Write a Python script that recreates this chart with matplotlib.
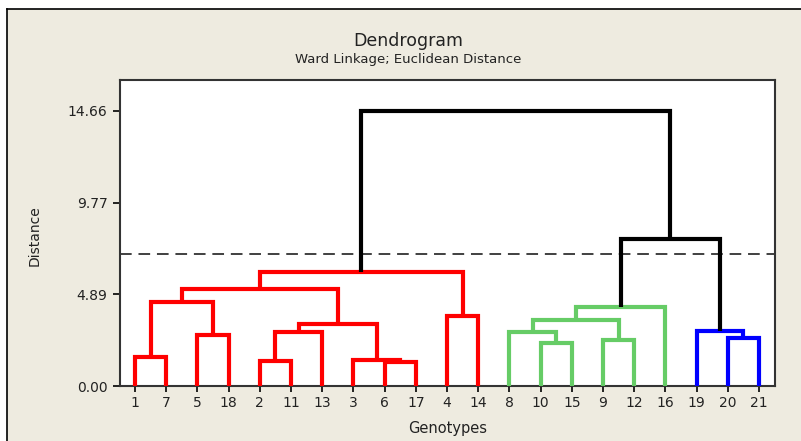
import matplotlib
matplotlib.use("Agg")
import matplotlib.pyplot as plt
from matplotlib.patches import Rectangle
from matplotlib.lines import Line2D

# ---- data ----
leaf_order = ["1", "7", "5", "18", "2", "11", "13", "3", "6", "17", "4", "14",
              "8", "10", "15", "9", "12", "16", "19", "20", "21"]
# merges: (child_a, child_b, distance); internal nodes are named c<index>
merge_a = ["1", "5", "c0", "2", "c3", "6", "3", "c4", "c2", "4", "c8",
           "10", "8", "9", "c12", "c14", "20", "19", "c15", "c10"]
merge_b = ["7", "18", "c1", "11", "13", "17", "c5", "c6", "c7", "14", "c9",
           "15", "c11", "12", "c13", "16", "21", "c16", "c17", "c18"]
merge_h = [1.53, 2.74, 4.46, 1.35, 2.86, 1.30, 1.39, 3.29, 5.19, 3.73, 6.09,
           2.31, 2.90, 2.45, 3.52, 4.20, 2.54, 2.95, 7.84, 14.66]
group_red = ["1", "7", "5", "18", "2", "11", "13", "3", "6", "17", "4", "14"]
group_green = ["8", "10", "15", "9", "12", "16"]
group_blue = ["19", "20", "21"]
cut_distance = 7.03
ytick_vals = [0.00, 4.89, 9.77, 14.66]

# ---- figure ----
W, H = 801, 441
fig = plt.figure(figsize=(W / 100, H / 100), dpi=100)
fig.patch.set_facecolor("white")
bg = "#EEEBE0"
fig.add_artist(Rectangle((7 / W, 0), 1, 1 - 9 / H, transform=fig.transFigure,
                         facecolor=bg, edgecolor="none", zorder=0))
fig.add_artist(Line2D([7 / W, 7 / W], [0, 1 - 9 / H], transform=fig.transFigure,
                      color="black", lw=1.2))
fig.add_artist(Line2D([7 / W, 1], [1 - 9 / H, 1 - 9 / H], transform=fig.transFigure,
                      color="black", lw=1.2))

ax = fig.add_axes([120 / W, (H - 386) / H, 655 / W, 306 / H])
ax.set_facecolor("white")

pos = {lab: i + 1 for i, lab in enumerate(leaf_order)}
height = {lab: 0.0 for lab in leaf_order}
members = {lab: {lab} for lab in leaf_order}
colors = {"red": "#FF0000", "green": "#66CC66", "blue": "#0000FF"}
groups = [(set(group_red), colors["red"]), (set(group_green), colors["green"]),
          (set(group_blue), colors["blue"])]

for i, (a, b, h) in enumerate(zip(merge_a, merge_b, merge_h)):
    name = f"c{i}"
    mem = members[a] | members[b]
    col = "black"
    for g, c in groups:
        if mem <= g:
            col = c
    xa, xb = pos[a], pos[b]
    ax.plot([xa, xa, xb, xb], [height[a], h, h, height[b]], color=col,
            lw=3.0, solid_joinstyle="miter", solid_capstyle="butt",
            clip_on=False, zorder=3)
    pos[name] = (xa + xb) / 2
    height[name] = h
    members[name] = mem

ax.axhline(cut_distance, color="#404040", lw=1.4, dashes=(6, 3.5), zorder=2)

ax.set_xlim(0.52, 21.51)
ax.set_ylim(0, 16.31)
ax.set_xticks(range(1, len(leaf_order) + 1))
ax.set_xticklabels(leaf_order)
ax.set_yticks(ytick_vals)
ax.set_yticklabels([f"{v:.2f}" for v in ytick_vals])
ax.tick_params(axis="both", direction="out", length=5, width=1.2,
               labelsize=10, colors="black", labelcolor="#222222")
ax.tick_params(axis="x", length=4, pad=3)
ax.tick_params(axis="y", pad=4)
for s in ax.spines.values():
    s.set_color("#333333")
    s.set_linewidth(1.5)

ax.set_ylabel("Distance", fontsize=10, color="#222222")
ax.yaxis.set_label_coords(-0.119, 0.493)
ax.set_xlabel("Genotypes", fontsize=10.5, color="#222222")
ax.xaxis.set_label_coords(0.5, -0.114)

fig.text(408 / W, 1 - 41 / H, "Dendrogram", ha="center", va="center",
         fontsize=12.5, color="#222222")
fig.text(408 / W, 1 - 60 / H, "Ward Linkage; Euclidean Distance", ha="center",
         va="center", fontsize=9.5, color="#222222")

fig.savefig("out.png", dpi=100, facecolor=fig.get_facecolor())
